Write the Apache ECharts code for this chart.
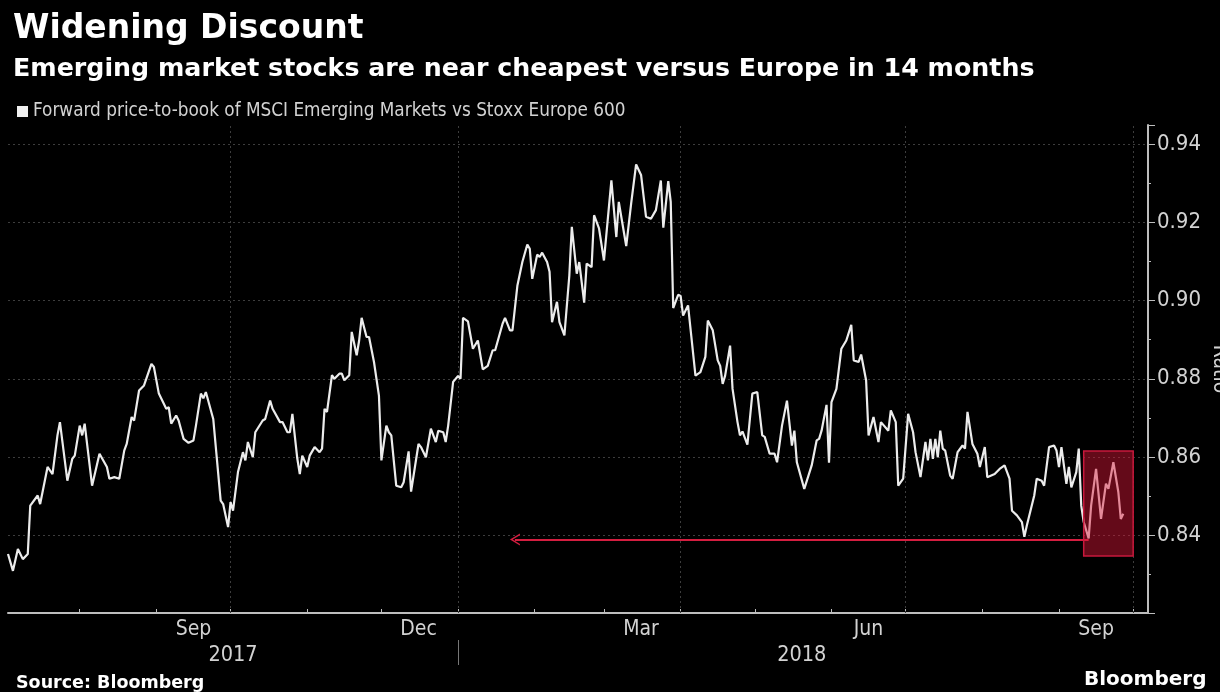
<!DOCTYPE html>
<html><head><meta charset="utf-8">
<script src="https://cdn.jsdelivr.net/npm/echarts@6/dist/echarts.min.js"></script>
<style>html,body{margin:0;padding:0;background:#000}#c{width:1220px;height:692px}</style>
</head><body><div id="c"></div>
<script>
// ---- Data ----
const seriesName = 'Forward price-to-book of MSCI Emerging Markets vs Stoxx Europe 600';
const dates = [
'2017-07-03','2017-07-05','2017-07-07','2017-07-09','2017-07-11','2017-07-12','2017-07-15','2017-07-16','2017-07-19','2017-07-21','2017-07-23','2017-07-24','2017-07-27','2017-07-29','2017-07-30',
'2017-08-01','2017-08-02','2017-08-03','2017-08-06','2017-08-09','2017-08-12','2017-08-13','2017-08-15','2017-08-17','2017-08-19','2017-08-20','2017-08-22','2017-08-23','2017-08-25','2017-08-27','2017-08-30','2017-08-31',
'2017-09-02','2017-09-05','2017-09-06','2017-09-07','2017-09-09','2017-09-10','2017-09-12','2017-09-14','2017-09-16','2017-09-17','2017-09-19','2017-09-20','2017-09-21','2017-09-24','2017-09-27','2017-09-28','2017-09-30',
'2017-10-01','2017-10-02','2017-10-04','2017-10-06','2017-10-07','2017-10-08','2017-10-10','2017-10-11','2017-10-14','2017-10-15','2017-10-17','2017-10-18','2017-10-21','2017-10-22','2017-10-24','2017-10-25','2017-10-26','2017-10-28','2017-10-29','2017-10-30',
'2017-11-01','2017-11-02','2017-11-04','2017-11-06','2017-11-07','2017-11-08','2017-11-09','2017-11-11','2017-11-12','2017-11-14','2017-11-15','2017-11-16','2017-11-18','2017-11-19','2017-11-21','2017-11-22','2017-11-23','2017-11-25','2017-11-26','2017-11-28','2017-11-30',
'2017-12-01','2017-12-03','2017-12-04','2017-12-05','2017-12-07','2017-12-09','2017-12-10','2017-12-12','2017-12-13','2017-12-16','2017-12-17','2017-12-19','2017-12-21','2017-12-23','2017-12-24','2017-12-26','2017-12-27','2017-12-28','2017-12-30',
'2018-01-01','2018-01-02','2018-01-03','2018-01-05','2018-01-07','2018-01-09','2018-01-11','2018-01-13','2018-01-15','2018-01-16','2018-01-19','2018-01-20','2018-01-22','2018-01-23','2018-01-25','2018-01-27','2018-01-29','2018-01-30','2018-01-31',
'2018-02-02','2018-02-03','2018-02-04','2018-02-06','2018-02-07','2018-02-08','2018-02-10','2018-02-11','2018-02-13','2018-02-15','2018-02-16','2018-02-18','2018-02-19','2018-02-21','2018-02-22','2018-02-24','2018-02-25','2018-02-27',
'2018-03-01','2018-03-04','2018-03-06','2018-03-07','2018-03-08','2018-03-10','2018-03-12','2018-03-14','2018-03-16','2018-03-18','2018-03-20','2018-03-22','2018-03-24','2018-03-25','2018-03-27','2018-03-28','2018-03-29','2018-03-31',
'2018-04-01','2018-04-02','2018-04-04','2018-04-07','2018-04-09','2018-04-11','2018-04-12','2018-04-14','2018-04-16','2018-04-17','2018-04-18','2018-04-19','2018-04-21','2018-04-22','2018-04-24','2018-04-25','2018-04-26','2018-04-28','2018-04-30',
'2018-05-02','2018-05-04','2018-05-05','2018-05-07','2018-05-09','2018-05-10','2018-05-12','2018-05-14','2018-05-16','2018-05-17','2018-05-18','2018-05-21','2018-05-24','2018-05-26','2018-05-27','2018-05-28','2018-05-30','2018-05-31',
'2018-06-01','2018-06-03','2018-06-05','2018-06-07','2018-06-09','2018-06-10','2018-06-12','2018-06-13','2018-06-15','2018-06-16','2018-06-18','2018-06-20','2018-06-21','2018-06-24','2018-06-25','2018-06-27','2018-06-28','2018-06-30',
'2018-07-02','2018-07-04','2018-07-05','2018-07-07','2018-07-09','2018-07-10','2018-07-11','2018-07-12','2018-07-13','2018-07-14','2018-07-15','2018-07-16','2018-07-17','2018-07-19','2018-07-20','2018-07-22','2018-07-24','2018-07-25','2018-07-26','2018-07-28','2018-07-30','2018-07-31',
'2018-08-02','2018-08-03','2018-08-06','2018-08-08','2018-08-10','2018-08-12','2018-08-13','2018-08-15','2018-08-17','2018-08-18','2018-08-19','2018-08-22','2018-08-23','2018-08-25','2018-08-26','2018-08-28','2018-08-30','2018-08-31',
'2018-09-01','2018-09-02','2018-09-04','2018-09-05','2018-09-06','2018-09-08','2018-09-09','2018-09-10','2018-09-11','2018-09-13','2018-09-14','2018-09-16','2018-09-18','2018-09-20','2018-09-21','2018-09-23','2018-09-25','2018-09-26','2018-09-27'
];
const values = [
0.8351,0.8308,0.8364,0.8338,0.8351,0.8475,0.8501,0.8479,0.8574,0.8556,0.8655,0.8689,0.8539,0.8595,0.8603,
0.8680,0.8655,0.8685,0.8526,0.8608,0.8574,0.8544,0.8548,0.8544,0.8616,0.8633,0.8702,0.8693,0.8770,0.8783,0.8838,0.8830,
0.8762,0.8723,0.8727,0.8685,0.8706,0.8693,0.8646,0.8636,0.8642,0.8680,0.8762,0.8750,0.8766,0.8697,0.8488,0.8479,0.8420,
0.8484,0.8462,0.8561,0.8612,0.8591,0.8638,0.8599,0.8663,0.8693,0.8697,0.8744,0.8723,0.8689,0.8689,0.8663,0.8663,0.8710,0.8595,0.8556,0.8603,
0.8574,0.8603,0.8625,0.8612,0.8621,0.8723,0.8715,0.8809,0.8800,0.8813,0.8813,0.8796,0.8809,0.8920,0.8860,0.8898,0.8956,0.8907,0.8907,0.8843,0.8757,
0.8591,0.8680,0.8663,0.8655,0.8526,0.8522,0.8535,0.8614,0.8511,0.8633,0.8625,0.8599,0.8672,0.8638,0.8667,0.8663,0.8638,0.8680,0.8792,
0.8807,0.8800,0.8956,0.8947,0.8877,0.8898,0.8824,0.8833,0.8873,0.8873,0.8941,0.8956,0.8924,0.8924,0.9039,0.9099,0.9144,0.9133,0.9056,
0.9118,0.9112,0.9123,0.9099,0.9074,0.8945,0.8997,0.8945,0.8911,0.9065,0.9189,0.9069,0.9099,0.8995,0.9095,0.9086,0.9219,0.9185,
0.9103,0.9308,0.9163,0.9253,0.9215,0.9140,0.9249,0.9349,0.9322,0.9215,0.9210,0.9232,0.9308,0.9187,0.9306,0.9253,0.8981,0.9015,
0.9012,0.8962,0.8988,0.8808,0.8817,0.8856,0.8949,0.8924,0.8847,0.8833,0.8787,0.8808,0.8885,0.8774,0.8689,0.8655,0.8665,0.8631,0.8762,
0.8766,0.8655,0.8651,0.8608,0.8608,0.8586,0.8680,0.8744,0.8629,0.8667,0.8586,0.8518,0.8578,0.8642,0.8646,0.8667,0.8733,0.8585,
0.8740,0.8774,0.8877,0.8898,0.8938,0.8847,0.8843,0.8862,0.8796,0.8655,0.8702,0.8638,0.8689,0.8667,0.8719,0.8689,0.8526,0.8544,
0.8710,0.8663,0.8612,0.8548,0.8638,0.8591,0.8646,0.8595,0.8646,0.8599,0.8667,0.8621,0.8616,0.8552,0.8544,0.8612,0.8629,0.8621,0.8715,0.8633,0.8608,0.8574,
0.8625,0.8548,0.8556,0.8569,0.8578,0.8544,0.8462,0.8450,0.8433,0.8395,0.8424,0.8501,0.8544,0.8539,0.8526,0.8625,0.8629,0.8616,
0.8574,0.8625,0.8531,0.8574,0.8522,0.8561,0.8621,0.8475,0.8433,0.8391,0.8475,0.8569,0.8441,0.8531,0.8518,0.8586,0.8510,0.8441,0.8454
];
const axisRange = ['2017-07-03', '2018-10-07'];
const monthTicks = ['2017-08-01','2017-09-01','2017-10-01','2017-11-01','2017-12-01','2018-01-01','2018-02-01','2018-03-01','2018-04-01','2018-05-01','2018-06-01','2018-07-01','2018-08-01','2018-09-01','2018-10-01'];
const monthLabelDates = ['2017-09-16','2017-12-16','2018-03-16','2018-06-16','2018-09-16'];
const yearLabelDates = ['2017-10-02','2018-05-20'];
const yearSeparators = ['2018-01-01'];
const quarterLines = ['2017-10-01','2018-01-01','2018-04-01','2018-07-01','2018-10-01'];
const yRange = [0.82, 0.945];
const yStep = 0.02;
const arrowDates = ['2018-09-13', '2018-01-24'];
const arrowLevel = 0.8388;
const boxDates = ['2018-09-11', '2018-10-01'];
const boxLevels = [0.8615, 0.8346];
const MONTHS = ['Jan','Feb','Mar','Apr','May','Jun','Jul','Aug','Sep','Oct','Nov','Dec'];

// ---- helpers ----
const T = s => { const p = s.split('-').map(Number); return new Date(p[0], p[1] - 1, p[2]).getTime(); };
const lineData = dates.map((d, i) => [T(d), values[i]]);
const COND = '"DejaVu Sans Condensed", "Liberation Sans Narrow", "DejaVu Sans", sans-serif';
const BOLD = '"DejaVu Sans", Verdana, sans-serif';
const axisGray = '#bdbdbd';
const labelGray = '#d2d2d2';
const gridGray = '#3d3d3d';
const chevron = 'path://M5,0 L10,10 L8.6,10 L5,2.8 L1.4,10 L0,10 Z';

const chart = echarts.init(document.getElementById('c'), null, { renderer: 'canvas' });
chart.setOption({
  backgroundColor: '#000',
  animation: false,
  title: [
    { text: 'Widening Discount', left: 8, top: 8,
      textStyle: { color: '#fff', fontSize: 33, fontWeight: 'bold', fontFamily: BOLD } },
    { text: 'Emerging market stocks are near cheapest versus Europe in 14 months', left: 8, top: 52,
      textStyle: { color: '#fff', fontSize: 25.3, fontWeight: 'bold', fontFamily: BOLD } },
    { text: 'Source: Bloomberg', left: 11, top: 669,
      textStyle: { color: '#fff', fontSize: 17.5, fontWeight: 'bold', fontFamily: BOLD } },
    { text: 'Bloomberg', left: 1079, top: 665,
      textStyle: { color: '#fff', fontSize: 20, fontWeight: 'bold', fontFamily: BOLD } }
  ],
  legend: {
    data: [seriesName], left: 12, top: 97, icon: 'rect', itemWidth: 11, itemHeight: 11, itemGap: 4,
    textStyle: { color: labelGray, fontSize: 18.8, fontFamily: COND },
    selectedMode: false
  },
  grid: { left: 8, right: 72, top: 125, bottom: 79, containLabel: false, outerBoundsMode: 'none' },
  xAxis: [
    {
      type: 'value', min: T(axisRange[0]), max: T(axisRange[1]), position: 'bottom',
      axisLine: { show: true, lineStyle: { color: axisGray, width: 2 } },
      axisTick: { show: true, inside: true, length: 4, customValues: monthTicks.map(T), lineStyle: { color: axisGray, width: 1 } },
      axisLabel: { show: true, customValues: monthLabelDates.map(T), color: labelGray, fontSize: 21, fontFamily: COND, margin: 6,
        formatter: v => MONTHS[new Date(v).getMonth()] },
      splitLine: { show: false }
    },
    {
      type: 'value', min: T(axisRange[0]), max: T(axisRange[1]), position: 'bottom', offset: 27,
      axisLine: { show: false },
      axisTick: { show: true, inside: false, length: 25, customValues: yearSeparators.map(T), lineStyle: { color: '#777', width: 1 } },
      axisLabel: { show: true, customValues: yearLabelDates.map(T), color: labelGray, fontSize: 21.5, fontFamily: COND, margin: 4,
        formatter: v => String(new Date(v).getFullYear()) },
      splitLine: { show: false }
    }
  ],
  yAxis: {
    type: 'value', position: 'right', min: yRange[0], max: yRange[1], interval: yStep,
    name: 'Ratio', nameLocation: 'middle', nameRotate: -90, nameGap: 82, nameMoveOverlap: false,
    nameTextStyle: { color: labelGray, fontSize: 21, fontFamily: COND, verticalAlign: 'top' },
    axisLine: { show: true, lineStyle: { color: axisGray, width: 2 } },
    axisTick: { show: true, inside: false, length: 7, lineStyle: { color: axisGray } },
    minorTick: { show: true, splitNumber: 2, length: 3, lineStyle: { color: axisGray } },
    axisLabel: { color: labelGray, fontSize: 22, fontFamily: COND, margin: 9, showMinLabel: false, showMaxLabel: false,
      formatter: v => v.toFixed(2) },
    splitLine: { show: true, showMinLine: false, showMaxLine: false, lineStyle: { color: gridGray, width: 1, type: [2, 3] } }
  },
  series: [
    {
      name: 'quarters', type: 'line', data: [], z: 1, silent: true,
      markLine: {
        silent: true, symbol: 'none', animation: false, z: 1,
        label: { show: false },
        lineStyle: { color: gridGray, width: 1, type: [2, 3] },
        data: quarterLines.map(q => ({ xAxis: T(q) }))
      }
    },
    {
      name: seriesName, type: 'line', data: lineData, z: 3,
      showSymbol: false, symbol: 'none', color: '#f0f0f0',
      lineStyle: { color: '#ececec', width: 2.2 }
    },
    {
      name: 'highlight', type: 'line', data: [], z: 6, silent: true,
      markArea: {
        silent: true, z: 8,
        itemStyle: { color: 'rgba(217,22,54,0.46)', borderColor: '#c8183c', borderWidth: 1.5 },
        data: [[{ coord: [T(boxDates[0]), boxLevels[0]] }, { coord: [T(boxDates[1]), boxLevels[1]] }]]
      },
      markLine: {
        silent: true, z: 7, symbol: ['none', chevron], symbolSize: [12, 10],
        label: { show: false },
        lineStyle: { color: '#d41e40', width: 2, type: 'solid' },
        itemStyle: { color: '#d41e40' },
        data: [[{ coord: [T(arrowDates[0]), arrowLevel] }, { coord: [T(arrowDates[1]), arrowLevel] }]]
      }
    }
  ]
});
</script>
</body></html>
